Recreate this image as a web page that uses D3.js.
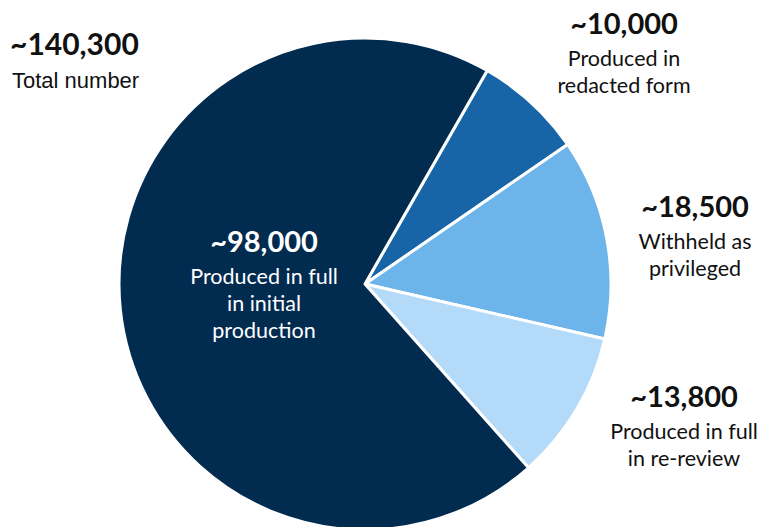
<!DOCTYPE html>
<html>
<head>
<meta charset="utf-8">
<script src="https://cdn.jsdelivr.net/npm/d3@7"></script>
<style>
  body { margin: 0; background: #fff; }
  svg { display: block; }
</style>
</head>
<body>
<div id="chart"></div>
<script>
// slices in clockwise order, starting at the top-right boundary
const categories = ["Produced in redacted form", "Withheld as privileged", "Produced in full in re-review", "Produced in full in initial production"];
const values = [10000, 18500, 13800, 98000];
const valueLabels = ["~10,000", "~18,500", "~13,800", "~98,000"];
const labelLines = [["Produced in", "redacted form"], ["Withheld as", "privileged"], ["Produced in full", "in re-review"], ["Produced in full", "in initial", "production"]];
const totalLabel = "~140,300";
const totalText = "Total number";
const colors = ["#1765a7", "#6db4ea", "#b4dafa", "#022b50"];

const w = 759, h = 527;
const cx = 365, cy = 284, r = 246;
const startAngle = 0.52;

const svg = d3.select("#chart").append("svg")
    .attr("width", w)
    .attr("height", h);

const pie = d3.pie()
    .sort(null)
    .startAngle(startAngle)
    .endAngle(startAngle + 2 * Math.PI);

const arc = d3.arc().innerRadius(0).outerRadius(r);

const g = svg.append("g").attr("transform", `translate(${cx},${cy})`);

g.selectAll("path")
    .data(pie(values))
    .enter()
    .append("path")
    .attr("d", arc)
    .attr("fill", (d, i) => colors[i])
    .attr("stroke", "#fff")
    .attr("stroke-width", 3)
    .attr("stroke-linejoin", "round");

// label positions (center x, baseline of first line)
const labelPos = [
    {x: 624, y: 34, dark: true},
    {x: 695, y: 217, dark: true},
    {x: 684, y: 407, dark: true},
    {x: 264, y: 252, dark: false}
];

labelPos.forEach((p, i) => {
    const col = p.dark ? "#111" : "#fff";
    const t = svg.append("g");
    t.append("text")
        .attr("x", p.x)
        .attr("y", p.y)
        .attr("text-anchor", "middle")
        .style("font-family", "Lato, sans-serif")
        .style("font-weight", "bold")
        .style("font-size", "29px")
        .style("fill", col)
        .text(valueLabels[i]);
    labelLines[i].forEach((line, j) => {
        t.append("text")
            .attr("x", p.x)
            .attr("y", p.y + 32 + j * 27)
            .attr("text-anchor", "middle")
            .style("font-family", "Lato, sans-serif")
            .style("font-size", "21.5px")
            .style("fill", col)
            .text(line);
    });
});

svg.append("text")
    .attr("x", 10)
    .attr("y", 55)
    .style("font-family", "Lato, sans-serif")
    .style("font-weight", "bold")
    .style("font-size", "30px")
    .style("fill", "#111")
    .text(totalLabel);

svg.append("text")
    .attr("x", 12)
    .attr("y", 88)
    .style("font-family", "'Liberation Sans', Arial, sans-serif")
    .style("font-size", "22px")
    .style("fill", "#111")
    .text(totalText);
</script>
</body>
</html>
